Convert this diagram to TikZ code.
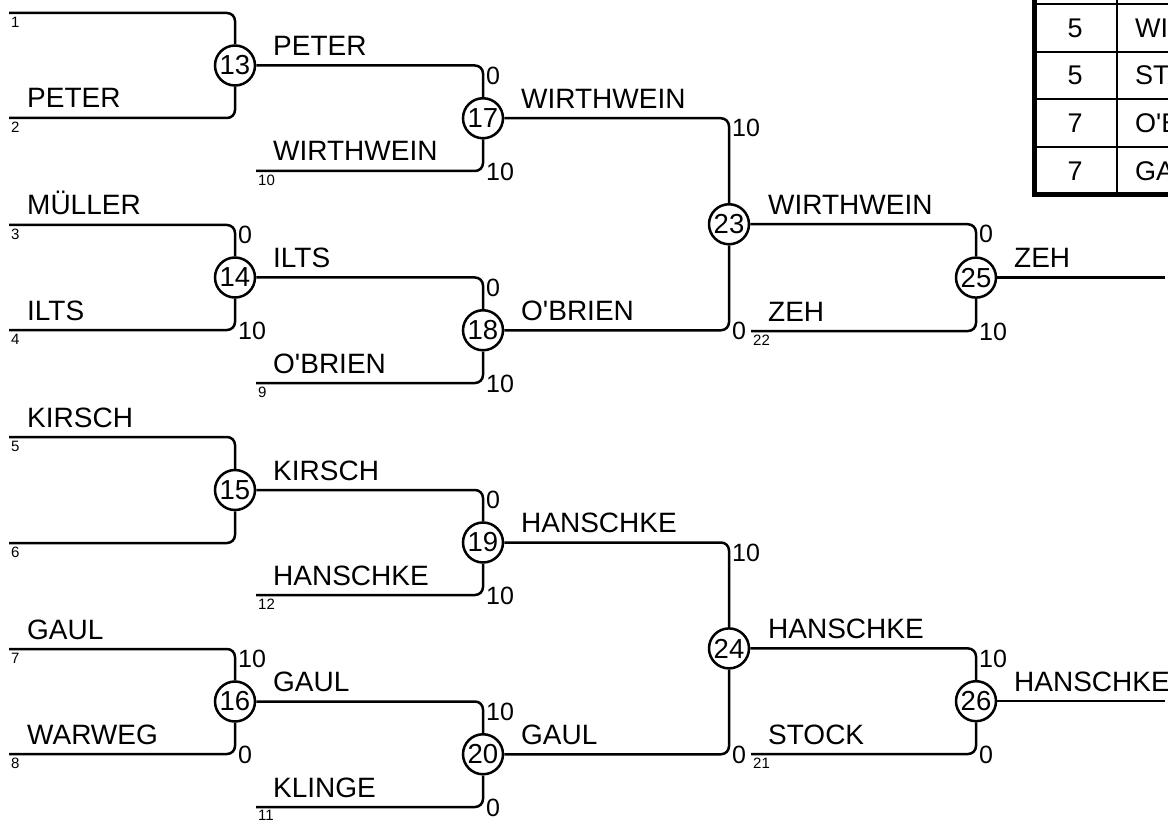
\documentclass[tikz,border=0pt]{standalone}
\usepackage{fontspec}
\setmainfont{Liberation Sans}
\begin{document}
\begin{tikzpicture}[x=1pt,y=-1pt,
    wire/.style={line width=2.5pt,rounded corners=8pt},
    game/.style={circle,draw,line width=2.5pt,minimum size=40pt,inner sep=0pt,fill=white,font=\fontsize{27.5}{27.5}\selectfont},
    player/.style={anchor=base west,inner sep=0pt,font=\fontsize{28}{28}\selectfont},
    score/.style={inner sep=0pt,font=\fontsize{25}{25}\selectfont},
    seed/.style={anchor=north west,inner sep=0pt,font=\fontsize{15}{15}\selectfont},
    cell/.style={inner sep=0pt,font=\fontsize{27}{27}\selectfont}]
\useasboundingbox (0,0) rectangle (1168,821);
\clip (0,0) rectangle (1168,821);

	\coordinate (s1) at (9,13);
	\coordinate (s2) at (9,118);
	\coordinate (s3) at (9,225);
	\coordinate (s4) at (9,330);
	\coordinate (s5) at (9,437);
	\coordinate (s6) at (9,543);
	\coordinate (s7) at (9,649);
	\coordinate (s8) at (9,754);
	\coordinate (s10) at (256,171);
	\coordinate (s9) at (256,383);
	\coordinate (s12) at (256,595);
	\coordinate (s11) at (256,807);
	\coordinate (s22) at (751,331);
	\coordinate (s21) at (751,754);
	\coordinate (e25) at (1165,277.6);
	\coordinate (e26) at (1165,701.2);

	\node[game] (m13) at (235,65.5) {13};
	\node[game] (m14) at (235,277.5) {14};
	\node[game] (m15) at (235,490) {15};
	\node[game] (m16) at (235,701.5) {16};
	\node[game] (m17) at (483,118.25) {17};
	\node[game] (m18) at (483,330.25) {18};
	\node[game] (m19) at (483,542.5) {19};
	\node[game] (m20) at (483,754.25) {20};
	\node[game] (m23) at (729,224.25) {23};
	\node[game] (m24) at (729,648.4) {24};
	\node[game] (m25) at (976,277.6) {25};
	\node[game] (m26) at (976,701.2) {26};

	\draw[wire] (s1) -| (m13);
	\draw[wire] (s2) -| (m13);
	\draw[wire] (s3) -| (m14);
	\draw[wire] (s4) -| (m14);
	\draw[wire] (s5) -| (m15);
	\draw[wire] (s6) -| (m15);
	\draw[wire] (s7) -| (m16);
	\draw[wire] (s8) -| (m16);
	\draw[wire] (m13) -| (m17);
	\draw[wire] (s10) -| (m17);
	\draw[wire] (m14) -| (m18);
	\draw[wire] (s9) -| (m18);
	\draw[wire] (m15) -| (m19);
	\draw[wire] (s12) -| (m19);
	\draw[wire] (m16) -| (m20);
	\draw[wire] (s11) -| (m20);
	\draw[wire] (m17) -| (m23);
	\draw[wire] (m18) -| (m23);
	\draw[wire] (m19) -| (m24);
	\draw[wire] (m20) -| (m24);
	\draw[wire] (m23) -| (m25);
	\draw[wire] (s22) -| (m25);
	\draw[wire] (m24) -| (m26);
	\draw[wire] (s21) -| (m26);
	\draw[wire] (m25) -- (e25);
	\draw[wire] (m26) -- (e26);

	\node[seed] (k1) at (11,17) {1};
	\node[seed] (k2) at (11,122) {2};
	\node[seed] (k3) at (11,229) {3};
	\node[seed] (k4) at (11,334) {4};
	\node[seed] (k5) at (11,441) {5};
	\node[seed] (k6) at (11,547) {6};
	\node[seed] (k7) at (11,653) {7};
	\node[seed] (k8) at (11,758) {8};
	\node[seed] (k10) at (258,175) {10};
	\node[seed] (k9) at (258,387) {9};
	\node[seed] (k12) at (258,599) {12};
	\node[seed] (k11) at (258,810) {11};
	\node[seed] (k22) at (753,335) {22};
	\node[seed] (k21) at (753,758) {21};

	\node[player] (n2) at (27,108) {PETER};
	\node[player] (n3) at (27,215) {MÜLLER};
	\node[player] (n4) at (27,320) {ILTS};
	\node[player] (n5) at (27,427) {KIRSCH};
	\node[player] (n7) at (27,639) {GAUL};
	\node[player] (n8) at (27,744) {WARWEG};
	\node[player] (w13) at (273,55.5) {PETER};
	\node[player] (n10) at (273,161) {WIRTHWEIN};
	\node[player] (w14) at (273,267.5) {ILTS};
	\node[player] (n9) at (273,373) {O\textquotesingle BRIEN};
	\node[player] (w15) at (273,480) {KIRSCH};
	\node[player] (n12) at (273,585) {HANSCHKE};
	\node[player] (w16) at (273,691.5) {GAUL};
	\node[player] (n11) at (273,797) {KLINGE};
	\node[player] (w17) at (521,108.25) {WIRTHWEIN};
	\node[player] (w18) at (521,320.25) {O\textquotesingle BRIEN};
	\node[player] (w19) at (521,532.5) {HANSCHKE};
	\node[player] (w20) at (521,744.25) {GAUL};
	\node[player] (w23) at (768,214.25) {WIRTHWEIN};
	\node[player] (n22) at (768,321) {ZEH};
	\node[player] (w24) at (768,638.4) {HANSCHKE};
	\node[player] (n21) at (768,744) {STOCK};
	\node[player] (w25) at (1014,267.6) {ZEH};
	\node[player] (w26) at (1014,691.2) {HANSCHKE};

	\node[score,anchor=north west] (t14) at (238,226) {0};
	\node[score,anchor=west] (b14) at (238,331) {10};
	\node[score,anchor=north west] (t16) at (238,650) {10};
	\node[score,anchor=west] (b16) at (238,755) {0};
	\node[score,anchor=north west] (t17) at (486,66.5) {0};
	\node[score,anchor=west] (b17) at (486,172) {10};
	\node[score,anchor=north west] (t18) at (486,278.5) {0};
	\node[score,anchor=west] (b18) at (486,384) {10};
	\node[score,anchor=north west] (t19) at (486,491) {0};
	\node[score,anchor=west] (b19) at (486,596) {10};
	\node[score,anchor=north west] (t20) at (486,702.5) {10};
	\node[score,anchor=west] (b20) at (486,808) {0};
	\node[score,anchor=north west] (t23) at (732,119.25) {10};
	\node[score,anchor=west] (b23) at (732,331.25) {0};
	\node[score,anchor=north west] (t24) at (732,543.5) {10};
	\node[score,anchor=west] (b24) at (732,755.25) {0};
	\node[score,anchor=north west] (t25) at (979,225.25) {0};
	\node[score,anchor=west] (b25) at (979,332) {10};
	\node[score,anchor=north west] (t26) at (979,649.4) {10};
	\node[score,anchor=west] (b26) at (979,755) {0};

	\draw[line width=2pt] (1117,-50) -- (1117,194.5);
	\draw[line width=2pt] (1034.5,4) -- (1300,4);
	\draw[line width=2pt] (1034.5,52) -- (1300,52);
	\draw[line width=2pt] (1034.5,99) -- (1300,99);
	\draw[line width=2pt] (1034.5,147) -- (1300,147);
	\draw[line width=5pt] (1034.5,-50) rectangle (1300,194.5);
	\node[cell] (r1a) at (1075,28) {5};
	\node[cell,anchor=west] (r1b) at (1135,28) {WI};
	\node[cell] (r2a) at (1075,75.5) {5};
	\node[cell,anchor=west] (r2b) at (1135,75.5) {ST};
	\node[cell] (r3a) at (1075,123) {7};
	\node[cell,anchor=west] (r3b) at (1135,123) {O\textquotesingle B};
	\node[cell] (r4a) at (1075,170.8) {7};
	\node[cell,anchor=west] (r4b) at (1135,170.8) {GA};

\end{tikzpicture}
\end{document}
